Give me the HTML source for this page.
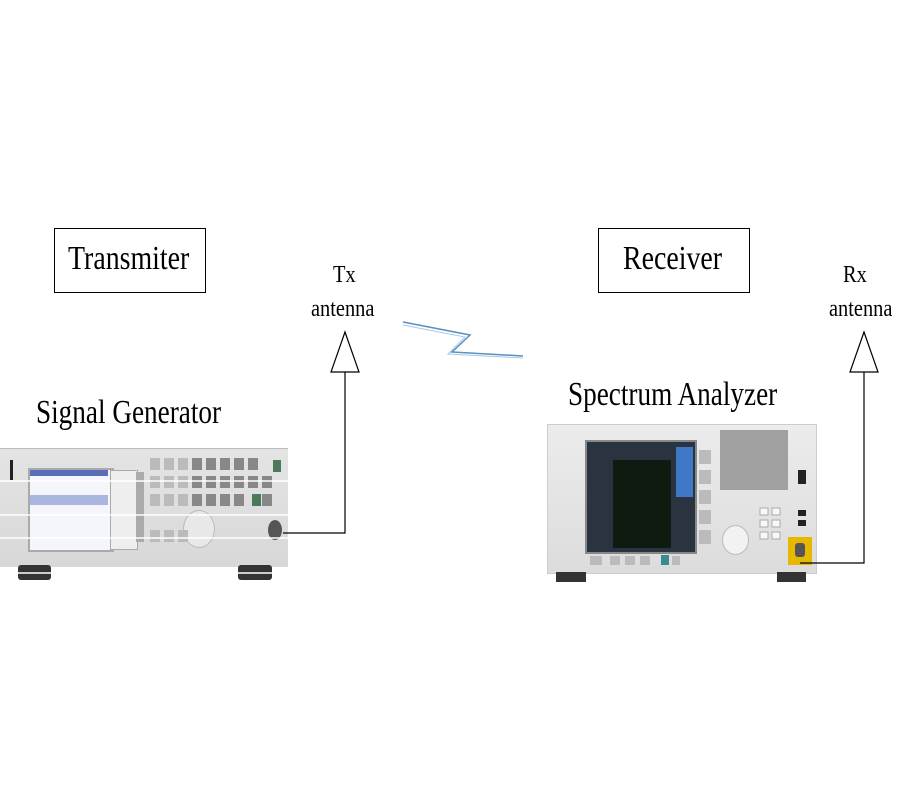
<!DOCTYPE html>
<html><head><style>
body{margin:0;width:900px;height:800px;background:#fff;position:relative;overflow:hidden;font-family:"Liberation Serif",serif}
.a{position:absolute}
.t{position:absolute;white-space:nowrap;color:#000;transform-origin:0 0}
</style></head><body>
<div class="a" style="left:54px;top:228px;width:150px;height:63px;border:1px solid #000"></div>
<div class="t" style="left:68px;top:240px;font-size:34px;transform:scaleX(0.82)">Transmiter</div>
<div class="a" style="left:598px;top:228px;width:150px;height:63px;border:1px solid #000"></div>
<div class="t" style="left:623px;top:240px;font-size:34px;transform:scaleX(0.82)">Receiver</div>
<div class="t" style="left:333px;top:262px;font-size:24px;transform:scaleX(0.85)">Tx</div>
<div class="t" style="left:311px;top:296px;font-size:24px;transform:scaleX(0.85)">antenna</div>
<div class="t" style="left:843px;top:262px;font-size:24px;transform:scaleX(0.85)">Rx</div>
<div class="t" style="left:829px;top:296px;font-size:24px;transform:scaleX(0.85)">antenna</div>
<div class="t" style="left:36px;top:394px;font-size:34px;transform:scaleX(0.8)">Signal Generator</div>
<div class="t" style="left:568px;top:376px;font-size:34px;transform:scaleX(0.8)">Spectrum Analyzer</div>

<!-- signal generator -->
<div class="a" style="left:0;top:448px;width:288px;height:118px;background:linear-gradient(#e4e4e4,#d8d8d8);border-top:1px solid #bbb"></div>
<div class="a" style="left:18px;top:565px;width:33px;height:15px;background:#333;border-radius:3px"></div>
<div class="a" style="left:238px;top:565px;width:34px;height:15px;background:#333;border-radius:3px"></div>
<div class="a" style="left:10px;top:460px;width:3px;height:20px;background:#222"></div>
<div class="a" style="left:28px;top:468px;width:82px;height:80px;background:#f4f6fb;border:2px solid #aaa"></div>
<div class="a" style="left:30px;top:470px;width:78px;height:6px;background:#5a6db8"></div>
<div class="a" style="left:30px;top:495px;width:78px;height:10px;background:#a9b6e0"></div>
<div class="a" style="left:110px;top:470px;width:26px;height:78px;background:#eee;border:1px solid #aaa"></div>
<div class="a" style="left:183px;top:510px;width:30px;height:36px;border-radius:50%;background:#e8e8e8;border:1px solid #bbb"></div>
<div class="a" style="left:268px;top:520px;width:14px;height:20px;border-radius:50%;background:#555"></div>

<!-- spectrum analyzer -->
<div class="a" style="left:547px;top:424px;width:268px;height:148px;background:linear-gradient(#ececec,#dcdcdc);border:1px solid #ccc"></div>
<div class="a" style="left:556px;top:572px;width:30px;height:10px;background:#333"></div>
<div class="a" style="left:777px;top:572px;width:29px;height:10px;background:#333"></div>
<div class="a" style="left:585px;top:440px;width:108px;height:110px;background:#2a3340;border:2px solid #888"></div>
<div class="a" style="left:613px;top:460px;width:58px;height:88px;background:#0f1a10"></div>
<div class="a" style="left:676px;top:447px;width:17px;height:50px;background:#3f79c5"></div>
<div class="a" style="left:720px;top:430px;width:68px;height:60px;background:#a0a0a0"></div>
<div class="a" style="left:722px;top:525px;width:25px;height:28px;border-radius:50%;background:#f2f2f2;border:1px solid #bbb"></div>
<div class="a" style="left:788px;top:537px;width:24px;height:28px;background:#e8b800"></div>
<div class="a" style="left:795px;top:543px;width:10px;height:14px;background:#555;border-radius:3px"></div>

<svg class="a" style="left:0;top:0" width="900" height="800">
<g fill="#bbb">
<rect x="150" y="458" width="10" height="12"/><rect x="164" y="458" width="10" height="12"/><rect x="178" y="458" width="10" height="12"/>
<rect x="150" y="476" width="10" height="12"/><rect x="164" y="476" width="10" height="12"/><rect x="178" y="476" width="10" height="12"/>
<rect x="150" y="494" width="10" height="12"/><rect x="164" y="494" width="10" height="12"/><rect x="178" y="494" width="10" height="12"/>
<rect x="150" y="530" width="10" height="12"/><rect x="164" y="530" width="10" height="12"/><rect x="178" y="530" width="10" height="12"/>
</g>
<g fill="#888">
<rect x="192" y="458" width="10" height="12"/><rect x="206" y="458" width="10" height="12"/><rect x="220" y="458" width="10" height="12"/><rect x="234" y="458" width="10" height="12"/><rect x="248" y="458" width="10" height="12"/>
<rect x="192" y="476" width="10" height="12"/><rect x="206" y="476" width="10" height="12"/><rect x="220" y="476" width="10" height="12"/><rect x="234" y="476" width="10" height="12"/><rect x="248" y="476" width="10" height="12"/><rect x="262" y="476" width="10" height="12"/>
<rect x="192" y="494" width="10" height="12"/><rect x="206" y="494" width="10" height="12"/><rect x="220" y="494" width="10" height="12"/><rect x="234" y="494" width="10" height="12"/><rect x="262" y="494" width="10" height="12"/>
</g>
<rect x="252" y="494" width="9" height="12" fill="#4a7a5a"/><rect x="273" y="460" width="8" height="12" fill="#4a7a5a"/>
<rect x="136" y="472" width="8" height="70" fill="#aaa"/>
<g fill="#bbb"><rect x="699" y="450" width="12" height="14"/><rect x="699" y="470" width="12" height="14"/><rect x="699" y="490" width="12" height="14"/><rect x="699" y="510" width="12" height="14"/><rect x="699" y="530" width="12" height="14"/></g>
<g fill="#f8f8f8" stroke="#aaa"><rect x="760" y="508" width="8" height="7"/><rect x="772" y="508" width="8" height="7"/><rect x="760" y="520" width="8" height="7"/><rect x="772" y="520" width="8" height="7"/><rect x="760" y="532" width="8" height="7"/><rect x="772" y="532" width="8" height="7"/></g>
<g fill="#bbb"><rect x="590" y="556" width="12" height="9"/><rect x="610" y="556" width="10" height="9"/><rect x="625" y="556" width="10" height="9"/><rect x="640" y="556" width="10" height="9"/><rect x="672" y="556" width="8" height="9"/></g>
<rect x="661" y="555" width="8" height="10" fill="#3a8a90"/>
<rect x="798" y="470" width="8" height="14" fill="#222"/><rect x="798" y="510" width="8" height="6" fill="#222"/><rect x="798" y="520" width="8" height="6" fill="#222"/>
<g stroke="#fff" stroke-width="1.5"><line x1="0" y1="481" x2="288" y2="481"/><line x1="0" y1="515" x2="288" y2="515"/><line x1="0" y1="538" x2="288" y2="538"/><line x1="18" y1="573" x2="272" y2="573"/></g>
<g fill="none" stroke="#000" stroke-width="1.2">
<polygon points="345,332 331,372 359,372" fill="#fff"/>
<polyline points="345,372 345,533 283,533"/>
<polygon points="864,332 850,372 878,372" fill="#fff"/>
<polyline points="864,372 864,563 800,563"/>
</g>
<polyline points="403,322 470,335 452,352 523,356" fill="none" stroke="#5a8fc0" stroke-width="1.5"/>
<polyline points="403,325 465,337 448,354 523,358" fill="none" stroke="#a8c8e8" stroke-width="1"/>
</svg>
</body></html>
